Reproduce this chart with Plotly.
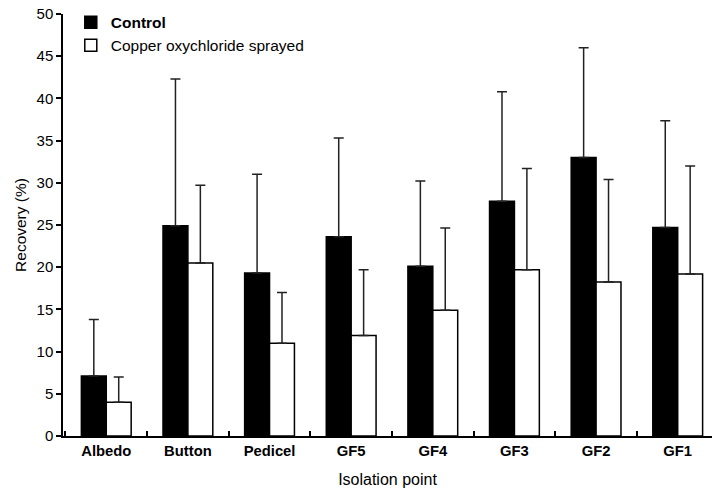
import plotly.graph_objects as go

categories = ["Albedo", "Button", "Pedicel", "GF5", "GF4", "GF3", "GF2", "GF1"]
control = [7.1, 24.9, 19.3, 23.6, 20.1, 27.8, 33.0, 24.7]
control_sd = [6.7, 17.4, 11.7, 11.7, 10.1, 13.0, 13.0, 12.65]
copper = [4.0, 20.5, 11.0, 11.9, 14.9, 19.7, 18.25, 19.2]
copper_sd = [3.0, 9.2, 6.0, 7.8, 9.75, 12.0, 12.15, 12.8]
y_ticks = [0, 5, 10, 15, 20, 25, 30, 35, 40, 45, 50]

FONT = "Liberation Sans, Arial, Helvetica, sans-serif"

fig = go.Figure()
fig.add_trace(go.Bar(
    x=categories, y=control, name="<b>Control</b>",
    marker=dict(color="black", line=dict(color="black", width=1.5)),
    error_y=dict(type="data", array=control_sd, arrayminus=[0] * len(control_sd),
                 symmetric=False, color="#222", thickness=1.5, width=5),
))
fig.add_trace(go.Bar(
    x=categories, y=copper, name="Copper oxychloride sprayed",
    marker=dict(color="white", line=dict(color="black", width=1.5)),
    error_y=dict(type="data", array=copper_sd, arrayminus=[0] * len(copper_sd),
                 symmetric=False, color="#222", thickness=1.5, width=5),
))

fig.update_layout(
    width=712, height=489,
    margin=dict(l=63, r=0, t=14, b=53, autoexpand=False),
    paper_bgcolor="white", plot_bgcolor="white",
    barmode="group", bargap=0.39, bargroupgap=0,
    font=dict(family=FONT, size=15, color="black"),
    showlegend=True,
    legend=dict(x=0.012, y=1.02, xanchor="left", yanchor="top",
                bgcolor="rgba(0,0,0,0)", font=dict(size=15.5), tracegroupgap=0),
    xaxis=dict(
        type="category", range=[-0.53, 7.42], automargin=False,
        showline=True, linecolor="black", linewidth=1.5,
        ticks="inside", tickson="boundaries", ticklen=5, tickcolor="black", tickwidth=1.5,
        tickfont=dict(size=14.8, family=FONT, weight="bold"),
        title=dict(text="Isolation point", font=dict(size=16), standoff=16),
        showgrid=False, zeroline=False,
    ),
    yaxis=dict(
        range=[0, 50], tickvals=y_ticks, automargin=False,
        showline=True, linecolor="black", linewidth=1.5,
        ticks="outside", ticklen=5, tickcolor="black", tickwidth=1.5,
        tickfont=dict(size=15),
        title=dict(text="Recovery (%)", font=dict(size=15.5), standoff=6),
        showgrid=False, zeroline=False,
    ),
)

fig.write_html("out.html", config={"displayModeBar": False},
               post_script="document.body.style.margin='0';")
